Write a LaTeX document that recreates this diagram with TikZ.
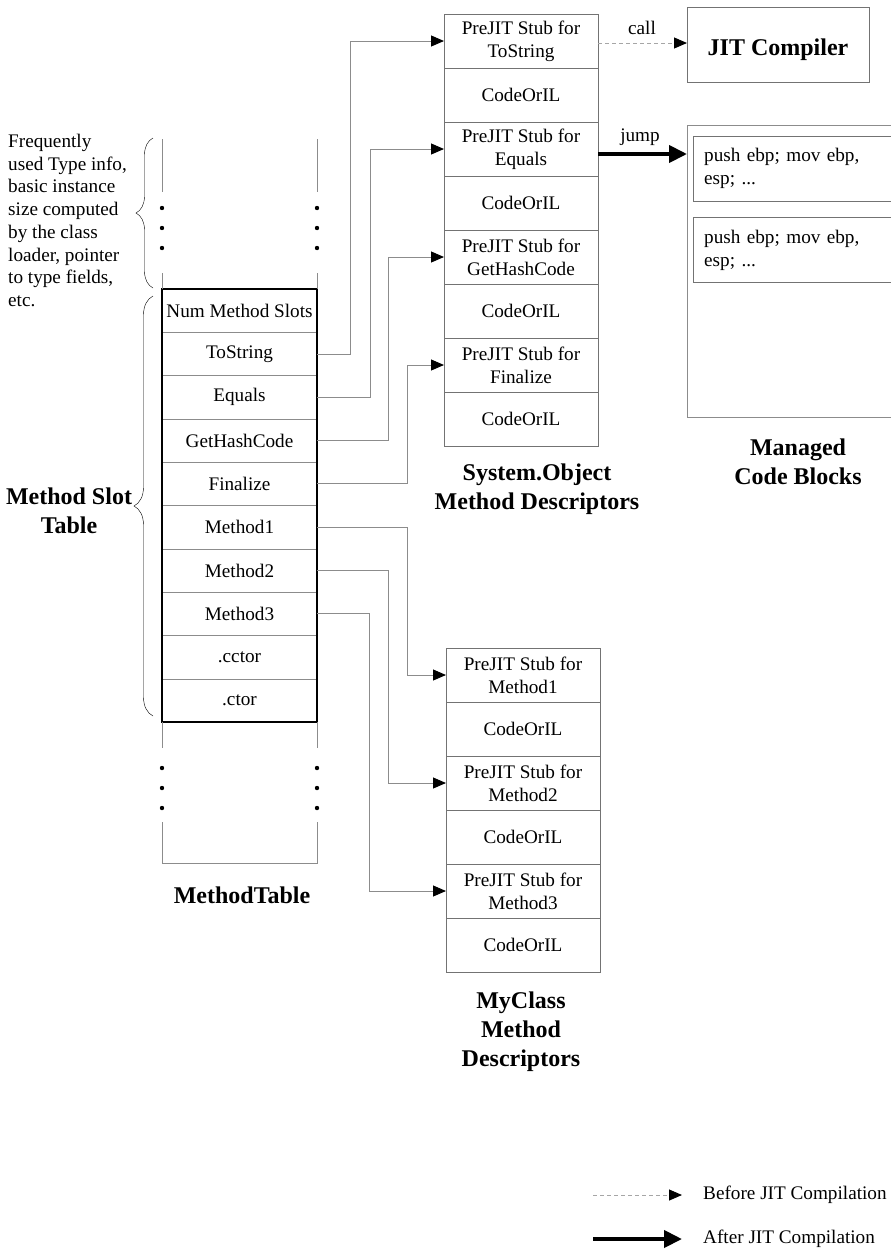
\documentclass[tikz,border=0pt]{standalone}
\usepackage{fontspec}
\setmainfont{Liberation Serif}
\usetikzlibrary{arrows.meta, positioning, calc, decorations.pathreplacing}
\newcommand{\cellfont}{\fontsize{19.2}{22.7}\selectfont}
\newcommand{\headfont}{\fontsize{24}{29}\selectfont\bfseries}

\begin{document}
\begin{tikzpicture}[x=1pt, y=-1pt, >=Stealth,
		cell/.style={draw=black!45, rectangle, minimum width=155, minimum height=43.3, inner sep=0pt, outer sep=0pt, font=\cellfont},
		desc/.style={draw=black!55, rectangle, minimum width=154, minimum height=54, inner sep=0pt, outer sep=0pt, font=\cellfont, align=center},
		head/.style={font=\headfont, align=center, inner sep=0pt},
		link/.style={draw=black!45, line width=1pt, -{Triangle[length=13pt, width=11pt, color=black]}},
		before/.style={draw=black!35, line width=1pt, dash pattern=on 4pt off 3pt, -{Triangle[length=13pt, width=11pt, color=black]}},
		after/.style={draw=black, line width=4pt, -{Triangle[length=18pt, width=17pt]}},
		guide/.style={draw=black!45, line width=1pt}]
	\fill[white] (0,0) rectangle (891,1251);
	\useasboundingbox (0,0) rectangle (891,1251);
	
	% method table
	\node[cell] (nms) at (239.5, 310.7) {Num Method Slots};
	\node[cell, below=0pt of nms] (tostr) {ToString};
	\node[cell, below=0pt of tostr] (equ) {Equals};
	\node[cell, below=0pt of equ] (ghc) {GetHashCode};
	\node[cell, below=0pt of ghc] (fin) {Finalize};
	\node[cell, below=0pt of fin] (mth1) {Method1};
	\node[cell, below=0pt of mth1] (mth2) {Method2};
	\node[cell, below=0pt of mth2] (mth3) {Method3};
	\node[cell, below=0pt of mth3] (cctor) {.cctor};
	\node[cell, below=0pt of cctor] (ctor) {.ctor};
	\draw[line width=2.5pt] (nms.north west) rectangle (ctor.south east);
	
	\draw[guide] (162,139) -- (162,192) (317,139) -- (317,192);
	\draw[guide] (nms.north west) -- ++(0,-16) (nms.north east) -- ++(0,-16);
	\draw[guide] (ctor.south west) -- ++(0,26) (ctor.south east) -- ++(0,26);
	\draw[guide] (162,822) -- (162,863) -- (317,863) -- (317,822);
	\foreach \y in {208,228,248,768,788,808}
		\fill (162,\y) circle (2.2pt) (317,\y) circle (2.2pt);
	
	\node[font=\cellfont, align=left, anchor=north west, inner sep=0pt] (typeinfo) at (8,134)
		{Frequently\\used Type info,\\basic instance\\size computed\\by the class\\loader, pointer\\to type fields,\\etc.};
	\draw[decorate, decoration={brace, amplitude=17pt}] (153,288) -- (153,138);
	\draw[decorate, decoration={brace, amplitude=19pt}] (153,716) -- (153,296);
	\node[head] (mstlab) at (69,511) {Method Slot\\Table};
	\node[head] (mtlab) at (242,895) {MethodTable};
	
	% System.Object method descriptors
	\node[desc] (sts) at (521,41) {PreJIT Stub for\\ToString};
	\node[desc, below=0pt of sts] (stsil) {CodeOrIL};
	\node[desc, below=0pt of stsil] (seq) {PreJIT Stub for\\Equals};
	\node[desc, below=0pt of seq] (seqil) {CodeOrIL};
	\node[desc, below=0pt of seqil] (sghc) {PreJIT Stub for\\GetHashCode};
	\node[desc, below=0pt of sghc] (sghcil) {CodeOrIL};
	\node[desc, below=0pt of sghcil] (sfin) {PreJIT Stub for\\Finalize};
	\node[desc, below=0pt of sfin] (sfinil) {CodeOrIL};
	\node[head] (solab) at (537,489) {System.Object\\Method Descriptors};
	
	% MyClass method descriptors
	\node[desc] (mm1) at (523,675) {PreJIT Stub for\\Method1};
	\node[desc, below=0pt of mm1] (mm1il) {CodeOrIL};
	\node[desc, below=0pt of mm1il] (mm2) {PreJIT Stub for\\Method2};
	\node[desc, below=0pt of mm2] (mm2il) {CodeOrIL};
	\node[desc, below=0pt of mm2il] (mm3) {PreJIT Stub for\\Method3};
	\node[desc, below=0pt of mm3] (mm3il) {CodeOrIL};
	\node[head] (mclab) at (521,1032) {MyClass\\Method\\Descriptors};
	
	% JIT compiler and managed code
	\node[draw=black!55, rectangle, minimum width=182, minimum height=75, text height=22pt, text depth=0pt, outer sep=0pt, font=\headfont] (jit) at (778,44.5) {JIT Compiler};
	\node[draw=black!45, rectangle, minimum width=208, minimum height=292, inner sep=0pt, outer sep=0pt, anchor=north west] (mcb) at (687,125) {};
	\node[draw=black!55, rectangle, anchor=north west, minimum width=202, minimum height=65, text width=180, inner xsep=10pt, inner ysep=0pt, align=left, font=\cellfont] (blk1) at (693,136) {push ebp; mov ebp,\\esp; ...};
	\node[draw=black!55, rectangle, below=16pt of blk1, minimum width=202, minimum height=65, text width=180, inner xsep=10pt, inner ysep=0pt, align=left, font=\cellfont] (blk2) {push ebp; mov ebp,\\esp; ...};
	\node[head] (mcblab) at (798,462) {Managed\\Code Blocks};
	
	\draw[link] (tostr.east) -- ++(33,0) |- (sts.west);
	\draw[link] (equ.east) -- ++(53,0) |- (seq.west);
	\draw[link] (ghc.east) -- ++(71,0) |- (sghc.west);
	\draw[link] (fin.east) -- ++(90,0) |- (sfin.west);
	\draw[link] (mth1.east) -- ++(90,0) |- (mm1.west);
	\draw[link] (mth2.east) -- ++(71,0) |- (mm2.west);
	\draw[link] (mth3.east) -- ++(52,0) |- (mm3.west);
	
	\coordinate (callst) at ([yshift=-2pt]sts.east);
	\draw[before] (callst) -- (callst -| jit.west);
	\node[font=\cellfont] (calllab) at (642,28) {call};
	\coordinate (jmpst) at ([yshift=-5pt]seq.east);
	\draw[after] (jmpst) -- (jmpst -| mcb.west);
	\node[font=\cellfont] (jmplab) at (640,137) {jump};
	
	% legend
	\coordinate (lgb) at (593,1195);
	\coordinate (lga) at (593,1239);
	\node[font=\cellfont, anchor=west, inner sep=0pt] (lgbt) at (703,1195) {Before JIT Compilation};
	\node[font=\cellfont, anchor=west, inner sep=0pt] (lgat) at (703,1239) {After JIT Compilation};
	\draw[before] (lgb) -- ++(89,0);
	\draw[after] (lga) -- ++(89,0);
\end{tikzpicture}
\end{document}
